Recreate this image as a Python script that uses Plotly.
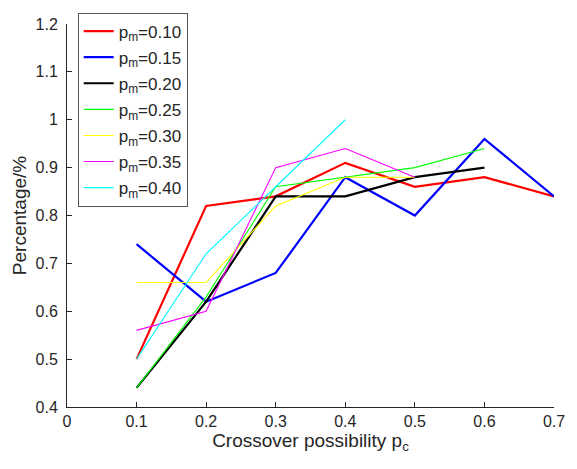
import plotly.graph_objects as go

pc = [0.1, 0.2, 0.3, 0.4, 0.5, 0.6, 0.7]

pm_labels = ["0.10", "0.15", "0.20", "0.25", "0.30", "0.35", "0.40"]
pm_010 = [0.50, 0.82, 0.84, 0.91, 0.86, 0.88, 0.84]
pm_015 = [0.74, 0.62, 0.68, 0.88, 0.80, 0.96, 0.84]
pm_020 = [0.44, 0.62, 0.84, 0.84, 0.88, 0.90]
pm_025 = [0.44, 0.63, 0.86, 0.88, 0.90, 0.94]
pm_030 = [0.66, 0.66, 0.82, 0.88, 0.88]
pm_035 = [0.56, 0.60, 0.90, 0.94, 0.88]
pm_040 = [0.50, 0.72, 0.86, 1.00]

series = [pm_010, pm_015, pm_020, pm_025, pm_030, pm_035, pm_040]
colors = ["#ff0000", "#0000ff", "#000000", "#00ff00", "#ffff00", "#ff00ff", "#00ffff"]
widths = [2.2, 2.2, 2.2, 1.1, 1.1, 1.1, 1.1]

fig = go.Figure()
for lab, ys, c, w in zip(pm_labels, series, colors, widths):
    fig.add_trace(go.Scatter(
        x=pc[:len(ys)], y=ys, mode="lines",
        line=dict(color=c, width=w),
        name=f"p<sub>m</sub>={lab}",
        legendgroup=lab,
    ))

axis_color = "#262626"
fig.update_layout(
    width=577, height=469,
    margin=dict(l=67, r=18, t=17, b=62),
    paper_bgcolor="white", plot_bgcolor="white",
    font=dict(family="Liberation Sans, Arial, sans-serif", size=16, color=axis_color),
    showlegend=True,
    legend=dict(
        x=0.022, y=1.03, xanchor="left", yanchor="top",
        bgcolor="white", bordercolor="#555555", borderwidth=1,
        font=dict(size=17, color=axis_color),
        tracegroupgap=1, itemwidth=30,
    ),
    xaxis=dict(
        range=[0, 0.7], tickvals=[0, 0.1, 0.2, 0.3, 0.4, 0.5, 0.6, 0.7],
        ticktext=["0", "0.1", "0.2", "0.3", "0.4", "0.5", "0.6", "0.7"],
        showgrid=False, zeroline=False, showline=True, linecolor=axis_color, linewidth=1,
        ticks="inside", ticklen=5, tickcolor=axis_color,
        title=dict(text="Crossover possibility p<sub>c</sub>", standoff=4),
    ),
    yaxis=dict(
        range=[0.4, 1.2], tickvals=[0.4, 0.5, 0.6, 0.7, 0.8, 0.9, 1.0, 1.1, 1.2],
        ticktext=["0.4", "0.5", "0.6", "0.7", "0.8", "0.9", "1", "1.1", "1.2"],
        showgrid=False, zeroline=False, showline=True, linecolor=axis_color, linewidth=1,
        ticks="inside", ticklen=5, tickcolor=axis_color, ticklabelstandoff=5,
        title=dict(text="Percentage/%", standoff=3),
    ),
)

fig.write_html("out.html")
